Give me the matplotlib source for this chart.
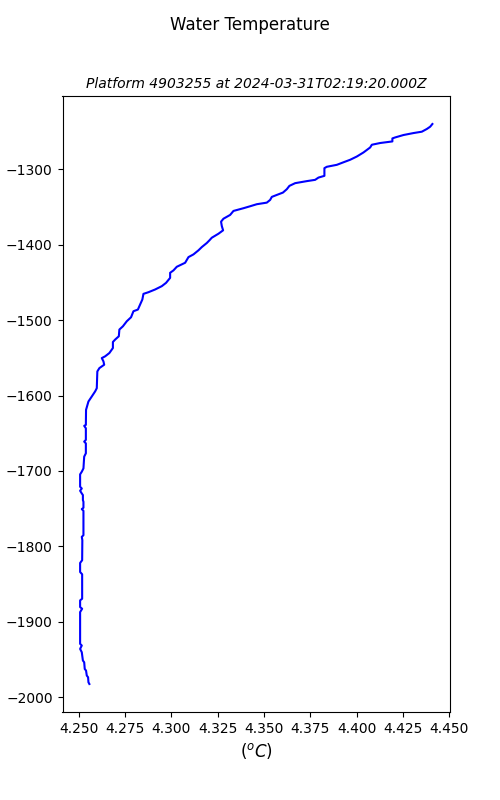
import numpy as np
import matplotlib.pyplot as plt

# perfil de temperatura
temperatura = [
    4.4409, 4.4397, 4.4379, 4.4352, 4.4307, 4.4253, 4.4208, 4.4193, 4.4193,
    4.4127, 4.4082, 4.4073, 4.4037, 4.4001, 4.3965, 4.3926, 4.3893, 4.3839,
    4.3826, 4.3826, 4.3794, 4.3776, 4.3731, 4.3668, 4.3637, 4.3623, 4.3602,
    4.3569, 4.3542, 4.3533, 4.3515, 4.3461, 4.3425, 4.3389, 4.3335, 4.3317,
    4.3281, 4.3268, 4.3272, 4.3279, 4.3254, 4.3218, 4.3205, 4.3191, 4.3164,
    4.3146, 4.3119, 4.3092, 4.3074, 4.3029, 4.3011, 4.2993, 4.2993, 4.2971,
    4.2948, 4.2912, 4.2876, 4.2849, 4.2843, 4.2831, 4.2819, 4.2795, 4.2782,
    4.2759, 4.2738, 4.2719, 4.2716, 4.2696, 4.2684, 4.2684, 4.2665, 4.2642,
    4.2624, 4.2633, 4.2637, 4.2611, 4.2600, 4.2597, 4.2588, 4.2570, 4.2552,
    4.2539, 4.2538, 4.2529, 4.2538, 4.2538, 4.2529, 4.2538, 4.2538, 4.2529,
    4.2525, 4.2516, 4.2507, 4.2507, 4.2516, 4.2507, 4.2516, 4.2522, 4.2522,
    4.2525, 4.2525, 4.2516, 4.2525, 4.2525, 4.2516, 4.2519, 4.2518, 4.2507,
    4.2507, 4.2518, 4.2518, 4.2507, 4.2507, 4.2518, 4.2507, 4.2507, 4.2516,
    4.2507, 4.2516, 4.2522, 4.2529, 4.2532, 4.2539, 4.2543, 4.2550, 4.2552,
    4.2557,
]

profundidad = [
    -1240.2, -1243.8, -1246.8, -1250.4, -1252.2, -1254.8, -1258.0, -1259.3,
    -1263.3, -1265.4, -1267.7, -1271.3, -1277.9, -1283.3, -1287.6, -1291.2,
    -1294.3, -1296.9, -1298.7, -1308.9, -1311.2, -1314.2, -1315.9, -1318.6,
    -1322.2, -1326.6, -1331.1, -1334.2, -1336.8, -1340.8, -1344.4, -1346.5,
    -1349.2, -1351.8, -1355.4, -1360.7, -1365.7, -1369.6, -1375.4, -1381.1,
    -1385.6, -1390.9, -1394.4, -1397.9, -1403.3, -1407.6, -1413.0, -1416.6,
    -1424.1, -1429.4, -1434.2, -1437.4, -1444.1, -1450.7, -1455.1, -1459.5,
    -1463.1, -1465.3, -1472.8, -1479.4, -1486.1, -1488.3, -1496.3, -1501.6,
    -1508.3, -1512.6, -1521.5, -1525.9, -1529.1, -1537.1, -1543.7, -1548.1,
    -1550.4, -1554.8, -1559.2, -1563.7, -1568.1, -1590.3, -1594.6, -1601.3,
    -1607.9, -1619.0, -1638.9, -1640.2, -1643.4, -1658.8, -1661.1, -1663.4,
    -1676.6, -1681.0, -1696.6, -1701.0, -1704.5, -1720.9, -1723.2, -1726.2,
    -1729.8, -1731.9, -1738.6, -1740.8, -1748.8, -1750.5, -1752.8, -1785.1,
    -1787.3, -1791.7, -1818.3, -1821.9, -1833.9, -1836.9, -1869.3, -1871.5,
    -1880.4, -1882.6, -1887.0, -1929.1, -1931.3, -1935.8, -1940.2, -1951.2,
    -1953.5, -1962.4, -1964.5, -1971.1, -1973.4, -1980.0, -1982.3,
]

plataforma = '4903255'
fecha = '2024-03-31T02:19:20.000Z'


def main():
    fig, ax = plt.subplots(figsize=(5, 8), dpi=100)
    ax.plot(temperatura, profundidad, color='blue')
    ax.set_title('Platform ' + plataforma + ' at ' + fecha,
                 fontsize=10, style='italic')
    fig.suptitle('Water Temperature')
    ax.set_xlabel('($^oC$)', fontsize=12)
    ax.set_ylabel('depth (m)')
    fig.savefig('out.png')


if __name__ == '__main__':
    main()
